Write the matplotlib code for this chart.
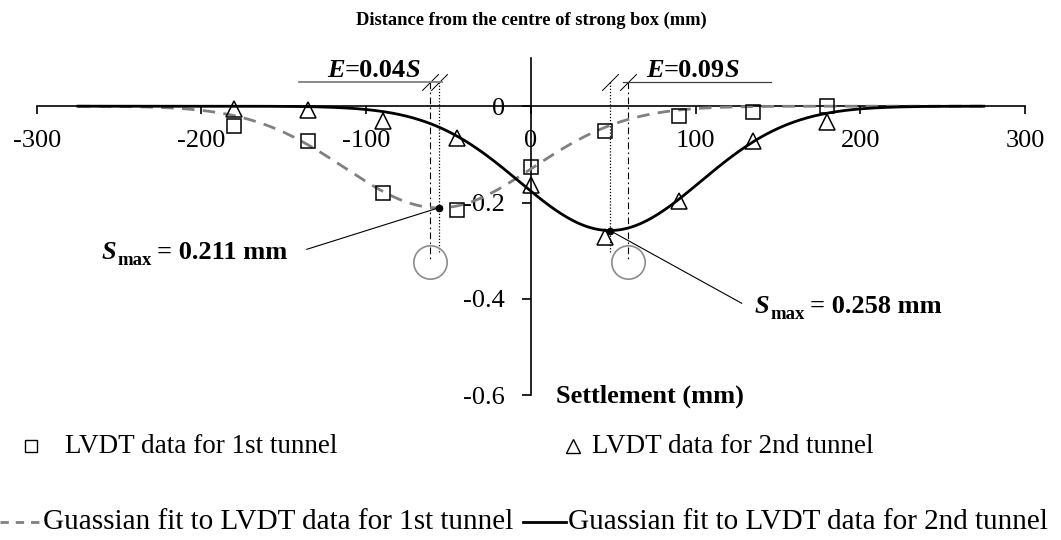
import numpy as np
import matplotlib
matplotlib.use("Agg")
import matplotlib.pyplot as plt
from matplotlib.transforms import offset_copy
from matplotlib.lines import Line2D

plt.rcParams["font.family"] = ["Liberation Serif", "DejaVu Serif"]
plt.rcParams["axes.unicode_minus"] = False

# LVDT readings: distance from box centre (mm) and settlement (mm)
lvdt_x = [-180, -135, -90, -45, 0, 45, 90, 135, 180]
lvdt_1st = [-0.042, -0.073, -0.181, -0.216, -0.127, -0.052, -0.021, -0.012, 0.001]
lvdt_2nd = [-0.006, -0.007, -0.031, -0.066, -0.163, -0.271, -0.196, -0.072, -0.033]

# Gaussian fits: peak settlement, position of the trough, trough width
fit_smax = [0.211, 0.258]
fit_centre = [-56, 48]
fit_width = [57, 55]
fit_span = (-275, 275)

# tunnel axes and eccentricity labels
tunnel_centre = [-61, 59]
ecc_labels = ["0.04", "0.09"]

x_ticks = [-300, -200, -100, 0, 100, 200, 300]
y_ticks = [-0.6, -0.4, -0.2, 0]
x_labels = ["-300", "-200", "-100", "0", "100", "200", "300"]
y_labels = ["-0.6", "-0.4", "-0.2", "0"]

W, H = 1061, 540
fig = plt.figure(figsize=(W / 100, H / 100), dpi=100)
ax = fig.add_axes([36.7 / W, 1 - 395.3 / H, (1025 - 36.7) / W, (395.3 - 58) / H])
ax.set_xlim(-300, 300)
ax.set_ylim(-0.6, 0.1)
ax.patch.set_visible(False)

for side in ("top", "right"):
    ax.spines[side].set_visible(False)
ax.spines["left"].set_position(("data", 0))
ax.spines["bottom"].set_position(("data", 0))
for side in ("left", "bottom"):
    ax.spines[side].set_linewidth(1.2)

ax.set_xticks(x_ticks, x_labels)
ax.set_yticks(y_ticks, y_labels)
ax.tick_params(axis="x", direction="out", length=5.8, width=1.2, pad=11, labelsize=19)
ax.tick_params(axis="y", direction="out", length=6.5, width=1.2, pad=12, labelsize=19)

# Gaussian trough curves
xs = np.linspace(fit_span[0], fit_span[1], 500)
curves = [-s * np.exp(-(xs - c) ** 2 / (2 * w ** 2))
          for s, c, w in zip(fit_smax, fit_centre, fit_width)]
ax.plot(xs, curves[0], color="#808080", lw=2.0, ls=(0, (4.5, 3)), zorder=3)
ax.plot(xs, curves[1], color="black", lw=2.0, zorder=4)

# measured points
ax.plot(lvdt_x, lvdt_1st, ls="none", marker="s", ms=9.5, mfc="none",
        mec="black", mew=1.1, zorder=5)
ax.plot(lvdt_x, lvdt_2nd, ls="none", marker="^", ms=11, mfc="none",
        mec="black", mew=1.1, zorder=5)

# tunnel axes, trough axes and tunnel outlines
dim_y = 0.05
circle_y = -0.324
for c in tunnel_centre:
    ax.plot([c, c], [dim_y, circle_y], color="black", lw=0.8,
            ls=(0, (6, 3, 1.5, 3)), zorder=2)
for c in fit_centre:
    ax.plot([c, c], [dim_y, -0.303], color="black", lw=0.9,
            ls=(0, (1, 1.5)), zorder=2)
ax.plot(tunnel_centre, [circle_y] * 2, ls="none", marker="o", ms=24,
        mfc="none", mec="#8c8c8c", mew=1.2, zorder=2)
ax.plot(tunnel_centre + fit_centre, [dim_y] * 4, ls="none",
        marker=[(-1, -1), (1, 1)], ms=12, mec="black", mew=0.7, zorder=2)

# dimension lines under the eccentricity labels
ax.plot([-141, fit_centre[0] + 2], [dim_y] * 2, color="#808080", lw=1.3, zorder=2)
ax.plot([tunnel_centre[1] - 3, 146], [dim_y] * 2, color="#404040", lw=0.9, zorder=2)

# peak markers and leader lines
ax.plot(fit_centre, [-s for s in fit_smax], ls="none", marker="o", ms=4.5,
        color="black", zorder=6)
ax.plot([-136, fit_centre[0]], [-0.297, -fit_smax[0]], color="black", lw=0.8, zorder=6)
ax.plot([128, fit_centre[1]], [-0.409, -fit_smax[1]], color="black", lw=0.8, zorder=6)

renderer = fig.canvas.get_renderer()


def rich_text(x, y, pieces, transform):
    """Lay out bold text runs one after another from a baseline point."""
    dx = 0.0
    for s, size, style, gap, dy in pieces:
        dx += gap
        t = fig.text(x, y, s, fontsize=size, fontstyle=style, fontweight="bold",
                     ha="left", va="baseline",
                     transform=offset_copy(transform, fig=fig, x=dx, y=dy, units="dots"))
        dx += t.get_window_extent(renderer).width


rich_text(-260.6, -0.318,
          [("S", 19, "italic", 0, 0), ("max", 13.5, "normal", 1, -6),
           (f"= {fit_smax[0]:.3f} mm", 19, "normal", 5, 0)], ax.transData)
rich_text(136, -0.430,
          [("S", 19, "italic", 0, 0), ("max", 13.5, "normal", 1, -6),
           (f"= {fit_smax[1]:.3f} mm", 19, "normal", 5, 0)], ax.transData)
rich_text(-123.6, 0.0615,
          [("E", 19, "italic", 0, 0), ("=" + ecc_labels[0], 19, "normal", 0, 0),
           ("S", 19, "italic", 0, 0)], ax.transData)
rich_text(69.9, 0.0615,
          [("E", 19, "italic", 0, 0), ("=" + ecc_labels[1], 19, "normal", 0, 0),
           ("S", 19, "italic", 0, 0)], ax.transData)

# axis titles
fig.text(531 / W, 1 - 25 / H, "Distance from the centre of strong box (mm)",
         ha="center", va="baseline", fontsize=13.3, fontweight="bold")
fig.text(556 / W, 1 - 403 / H, "Settlement (mm)", ha="left", va="baseline",
         fontsize=19, fontweight="bold")


# legend
def fx(px):
    return px / W


def fy(py):
    return 1 - py / H


fig.add_artist(Line2D([fx(31)], [fy(445.5)], marker="s", ms=8.5, mfc="none",
                      mec="black", mew=1.0, ls="none"))
fig.text(fx(65), fy(453), "LVDT data for 1st tunnel", fontsize=19.5, va="baseline")
fig.add_artist(Line2D([fx(573)], [fy(445.5)], marker="^", ms=9.5, mfc="none",
                      mec="black", mew=1.0, ls="none"))
fig.text(fx(592), fy(453), "LVDT data for 2nd tunnel", fontsize=19.5, va="baseline")

fig.add_artist(Line2D([fx(0), fx(42)], [fy(522)] * 2, color="#808080", lw=2.0,
                      ls=(0, (3, 2.5))))
fig.text(fx(43), fy(529), "Guassian fit to LVDT data for 1st tunnel", fontsize=21,
         va="baseline")
fig.add_artist(Line2D([fx(523), fx(566)], [fy(522)] * 2, color="black", lw=2.0))
fig.text(fx(568), fy(529), "Guassian fit to LVDT data for 2nd tunnel", fontsize=21,
         va="baseline")

fig.savefig("out.png", dpi=100)
